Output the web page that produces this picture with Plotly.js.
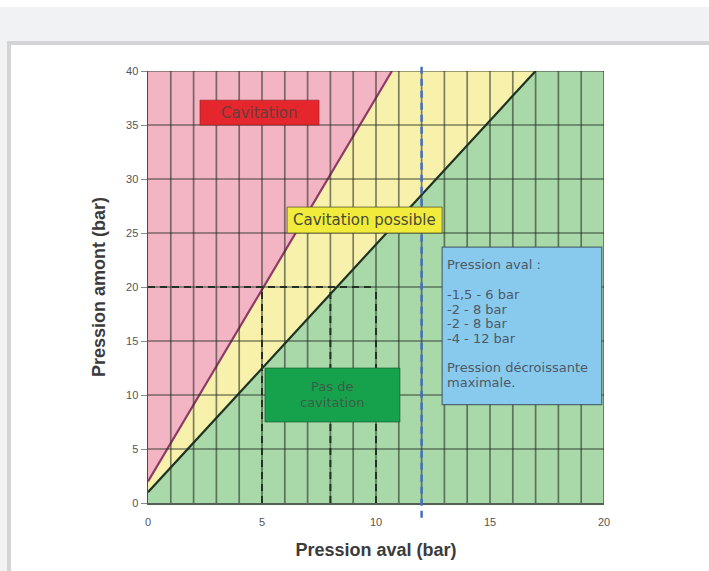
<!DOCTYPE html>
<html>
<head>
<meta charset="utf-8">
<script src="https://cdn.plot.ly/plotly-3.0.1.min.js"></script>
<style>
  html, body { margin: 0; padding: 0; width: 709px; height: 571px; overflow: hidden; background: #f1f2f4; }
  #topstrip { position: absolute; left: 0; top: 0; width: 709px; height: 7px; background: #ffffff; }
  #panel { position: absolute; left: 7px; top: 41px; width: 702px; height: 530px; background: #ffffff;
           border-top: 4px solid #d3d4d6; border-left: 4px solid #d3d4d6; box-sizing: border-box; }
  #chart { position: absolute; left: 0; top: 0; width: 709px; height: 571px; }
</style>
</head>
<body>
<div id="topstrip"></div>
<div id="panel"></div>
<div id="chart"></div>
<script>
// ---- data ----
const xTickVals = [0, 5, 10, 15, 20];
const yTickVals = [0, 5, 10, 15, 20, 25, 30, 35, 40];
// limit line between "Cavitation" and "Cavitation possible"
const redLineX = [0, 10.7];
const redLineY = [2, 40];
// limit line between "Cavitation possible" and "Pas de cavitation"
const blackLineX = [0, 17];
const blackLineY = [1, 40];
// worked example: upstream pressure 20 bar, downstream pressures 5, 8, 10 bar
const exampleUpstream = 20;
const exampleDownstream = [5, 8, 10];
// maximum downstream pressure marker
const maxDownstream = 12;
// box texts
const labelCavitation = "Cavitation";
const labelPossible = "Cavitation possible";
const labelNone = ["Pas de", "cavitation"];
const blueLines = ["Pression aval :", "", "-1,5 - 6 bar", "-2 - 8 bar", "-2 - 8 bar", "-4 - 12 bar", "", "Pression décroissante", "maximale."];

const xMax = 20, yMax = 40;

const traces = [];
// yellow zone (below red line)
traces.push({
  x: redLineX.concat([xMax, xMax, 0]),
  y: redLineY.concat([yMax, 0, 0]),
  mode: 'lines', fill: 'toself', fillcolor: '#f8f1ab',
  line: {width: 0, color: 'rgba(0,0,0,0)'}, hoverinfo: 'skip', showlegend: false
});
// green zone (below black line)
traces.push({
  x: blackLineX.concat([xMax, xMax, 0]),
  y: blackLineY.concat([yMax, 0, 0]),
  mode: 'lines', fill: 'toself', fillcolor: '#a9d8a9',
  line: {width: 0, color: 'rgba(0,0,0,0)'}, hoverinfo: 'skip', showlegend: false
});
// limit lines
traces.push({x: redLineX, y: redLineY, mode: 'lines', line: {color: '#8e3a66', width: 2.2}, showlegend: false});
traces.push({x: blackLineX, y: blackLineY, mode: 'lines', line: {color: '#1e3322', width: 2.2}, showlegend: false});
// example dashed lines
const exX = [0, Math.max(...exampleDownstream)];
traces.push({x: exX, y: [exampleUpstream, exampleUpstream], mode: 'lines',
  line: {color: '#26372a', width: 2, dash: '7px,5px'}, showlegend: false});
exampleDownstream.forEach(function (v) {
  traces.push({x: [v, v], y: [0, exampleUpstream], mode: 'lines',
    line: {color: '#26372a', width: 2, dash: '7px,5px'}, showlegend: false});
});

const shapes = [];
const gridColor = 'rgba(35,45,35,0.58)';
for (let gx = 1; gx <= xMax; gx++) {
  shapes.push({type: 'line', layer: 'above', xref: 'x', yref: 'y', x0: gx, x1: gx, y0: 0, y1: yMax,
    line: {color: gridColor, width: 1.7}});
}
for (let gy = 5; gy <= yMax; gy += 5) {
  shapes.push({type: 'line', layer: 'above', xref: 'x', yref: 'y', x0: 0, x1: xMax, y0: gy, y1: gy,
    line: {color: gridColor, width: 1.7}});
}
// blue maximum-downstream line (extends beyond plot vertically)
shapes.push({type: 'line', layer: 'above', xref: 'x', yref: 'paper', x0: maxDownstream, x1: maxDownstream,
  y0: -0.034, y1: 1.012, line: {color: '#4570c2', width: 2.5, dash: '7px,5px'}});
// boxes
shapes.push({type: 'rect', layer: 'above', xref: 'x', yref: 'y', x0: 2.28, x1: 7.5, y0: 35.0, y1: 37.3,
  fillcolor: '#e5262c', line: {color: 'rgba(140,30,30,0.6)', width: 1}});
shapes.push({type: 'rect', layer: 'above', xref: 'x', yref: 'y', x0: 6.1, x1: 12.9, y0: 25.0, y1: 27.4,
  fillcolor: '#f1ec3c', line: {color: 'rgba(90,90,40,0.8)', width: 1}});
shapes.push({type: 'rect', layer: 'above', xref: 'x', yref: 'y', x0: 12.9, x1: 19.9, y0: 9.1, y1: 23.7,
  fillcolor: '#88c9ee', line: {color: 'rgba(60,80,90,0.8)', width: 1.2}});
shapes.push({type: 'rect', layer: 'above', xref: 'x', yref: 'y', x0: 5.13, x1: 11.05, y0: 7.5, y1: 12.5,
  fillcolor: '#16a24c', line: {color: 'rgba(20,80,40,0.6)', width: 1}});

const boxFont = 'DejaVu Sans, Liberation Sans, Arial, sans-serif';
const annotations = [];
annotations.push({x: 4.89, y: 36.15, xref: 'x', yref: 'y', text: labelCavitation, showarrow: false,
  font: {family: boxFont, size: 15, color: '#6a3c3c'}});
annotations.push({x: 9.5, y: 26.2, xref: 'x', yref: 'y', text: labelPossible, showarrow: false,
  font: {family: boxFont, size: 15, color: '#4a4a36'}});
labelNone.forEach(function (t, i) {
  annotations.push({x: 8.09, y: 10.75 - i * 1.45, xref: 'x', yref: 'y', text: t, showarrow: false,
    borderpad: 0, font: {family: boxFont, size: 13, color: '#3b5e47'}});
});
blueLines.forEach(function (t, i) {
  if (!t) return;
  annotations.push({x: 13.07, y: 22.04 - i * 1.361, xref: 'x', yref: 'y', text: t, showarrow: false,
    borderpad: 0, xanchor: 'left', font: {family: boxFont, size: 13, color: '#4d5a66'}});
});

const layout = {
  width: 709, height: 571,
  paper_bgcolor: 'rgba(0,0,0,0)', plot_bgcolor: '#f3b5c3',
  margin: {l: 148, r: 105, t: 71, b: 68},
  showlegend: false,
  xaxis: {
    range: [0, xMax], tickvals: xTickVals, ticktext: xTickVals.map(String),
    showgrid: false, zeroline: false, showline: true, linecolor: '#556055', linewidth: 1.5,
    ticks: 'outside', ticklen: 8, tickcolor: 'rgba(0,0,0,0)',
    tickfont: {family: 'Liberation Sans, Arial, sans-serif', size: 11, color: '#555'},
    title: {text: 'Pression aval (bar)', standoff: 16,
      font: {family: 'Liberation Sans, Arial, sans-serif', size: 18, color: '#3b3b3b', weight: 'bold'}},
    fixedrange: true
  },
  yaxis: {
    range: [0, yMax], tickvals: yTickVals, ticktext: yTickVals.map(String),
    showgrid: false, zeroline: false, showline: true, linecolor: '#6e3a50', linewidth: 1.5,
    ticks: 'outside', ticklen: 6, tickcolor: '#8a8a8a', tickwidth: 1,
    tickfont: {family: 'Liberation Sans, Arial, sans-serif', size: 11, color: '#555'},
    title: {text: 'Pression amont (bar)', standoff: 15,
      font: {family: 'Liberation Sans, Arial, sans-serif', size: 18, color: '#3b3b3b', weight: 'bold'}},
    fixedrange: true
  },
  shapes: shapes,
  annotations: annotations
};

Plotly.newPlot('chart', traces, layout, {displayModeBar: false, staticPlot: true});
</script>
</body>
</html>
